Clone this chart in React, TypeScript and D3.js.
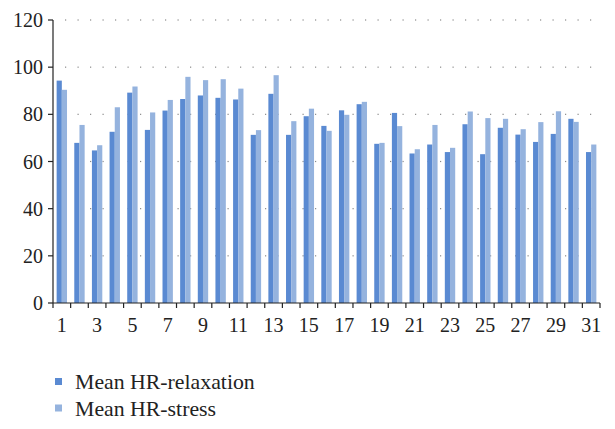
import React from 'react';
import * as d3 from 'd3';

// values
const subjects = d3.range(1, 32).map(String);
const relaxation = [94.3, 67.9, 64.7, 72.6, 89.2, 73.4, 81.6, 86.5, 88.0, 87.0, 86.3, 71.3, 88.7, 71.3, 79.2, 75.1, 81.7, 84.3, 67.5, 80.6, 63.4, 67.2, 64.0, 75.8, 63.1, 74.3, 71.4, 68.3, 71.7, 78.1, 64.0];
const stress = [90.4, 75.5, 66.9, 83.0, 91.8, 80.8, 86.1, 95.9, 94.5, 94.9, 90.9, 73.3, 96.6, 77.1, 82.4, 73.0, 79.8, 85.3, 67.9, 75.0, 65.2, 75.5, 65.8, 81.2, 78.4, 78.1, 73.7, 76.7, 81.3, 76.8, 67.2];
const seriesNames = ['Mean HR-relaxation', 'Mean HR-stress'];
const seriesColors = ['#5a8ad2', '#95b3de'];
const yTicks = [0, 20, 40, 60, 80, 100, 120];

const App = () => {
  const width = 615;
  const height = 429;
  const left = 53;
  const right = 600;
  const top = 20;
  const bottom = 303;
  const family = "'Liberation Serif', 'DejaVu Serif', serif";
  const tickStyle = { fontFamily: family, fontSize: '20px' };
  const legendStyle = { fontFamily: family, fontSize: '21.8px' };

  const x = d3.scaleBand<string>().domain(subjects).range([left, right]).paddingInner(0).paddingOuter(0);
  const y = d3.scaleLinear().domain([0, 120]).range([bottom, top]);
  const inner = d3.scaleBand<number>().domain([0, 1]).range([0, x.bandwidth()]).paddingOuter(0.7).paddingInner(0);
  const series = [relaxation, stress];

  const dots = d3.range(left + 12, right, 12.5);

  return (
    <svg width={width} height={height} style={{ position: 'absolute', left: 0, top: 0 }}>
      <rect width={width} height={height} fill="#fff" />
      {/* dotted grid */}
      {yTicks.filter(t => t > 0).map(t => (
        <g key={'g' + t}>
          {dots.map(dx => (
            <rect key={dx} x={dx} y={y(t) - 0.6} width={1.2} height={1.2} fill="#8a8a8a" />
          ))}
        </g>
      ))}
      {/* bars */}
      {subjects.map((s, i) => (
        <g key={s} transform={`translate(${x(s)},0)`}>
          {series.map((vals, k) => (
            <rect
              key={k}
              x={inner(k)}
              y={y(vals[i])}
              width={inner.bandwidth()}
              height={bottom - y(vals[i])}
              fill={seriesColors[k]}
            />
          ))}
        </g>
      ))}
      {/* y axis */}
      <line x1={left} x2={left} y1={top} y2={bottom} stroke="#222" strokeWidth={1.2} />
      {yTicks.map(t => (
        <g key={'y' + t}>
          <line x1={left - 5} x2={left} y1={y(t)} y2={y(t)} stroke="#222" strokeWidth={1.2} />
          <text x={left - 10} y={y(t)} dy="0.35em" textAnchor="end" style={tickStyle} fill="#222">{t}</text>
        </g>
      ))}
      {/* x axis */}
      <line x1={left} x2={right} y1={bottom} y2={bottom} stroke="#222" strokeWidth={1.2} />
      {subjects.map(s => (
        <line key={'xt' + s} x1={x(s)!} x2={x(s)!} y1={bottom} y2={bottom + 5} stroke="#222" strokeWidth={1.2} />
      ))}
      <line x1={right} x2={right} y1={bottom} y2={bottom + 5} stroke="#222" strokeWidth={1.2} />
      {subjects.filter((s, i) => i % 2 === 0).map(s => (
        <text key={'xl' + s} x={x(s)! + x.bandwidth() / 2} y={332} textAnchor="middle" style={tickStyle} fill="#222">{s}</text>
      ))}
      {/* legend */}
      {seriesNames.map((n, k) => (
        <g key={n} transform={`translate(55,${378 + k * 26.5})`}>
          <rect width={7} height={7} fill={seriesColors[k]} />
          <text x={20} y={11} style={legendStyle} fill="#222">{n}</text>
        </g>
      ))}
    </svg>
  );
};

export default App;
